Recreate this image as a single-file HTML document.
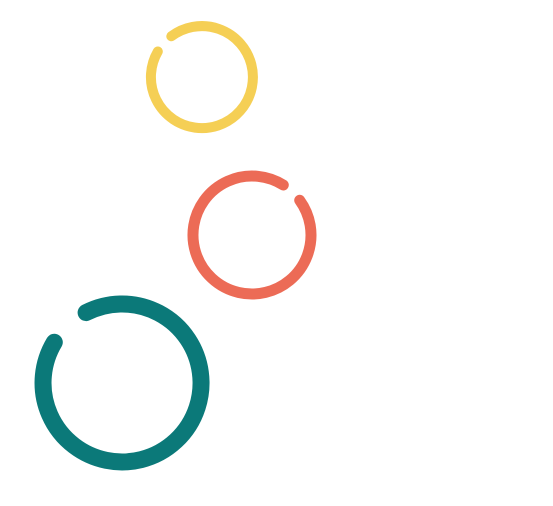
<!DOCTYPE html>
<html><head><meta charset="utf-8"><style>
html,body{margin:0;padding:0;background:#fff;}
svg{display:block;}
</style></head><body>
<svg width="553" height="506" viewBox="0 0 553 506" xmlns="http://www.w3.org/2000/svg">
<path d="M171.3 36.3 A51 51 0 1 1 157.8 51.5" fill="none" stroke="#F5CF55" stroke-width="10" stroke-linecap="round"/>
<path d="M299.7 200.3 A59 59 0 1 1 283.3 185" fill="none" stroke="#EC6B56" stroke-width="11" stroke-linecap="round"/>
<path d="M86.1 312.6 A79 79 0 1 1 54.3 342.3" fill="none" stroke="#0B7979" stroke-width="17" stroke-linecap="round"/>
</svg>
</body></html>
